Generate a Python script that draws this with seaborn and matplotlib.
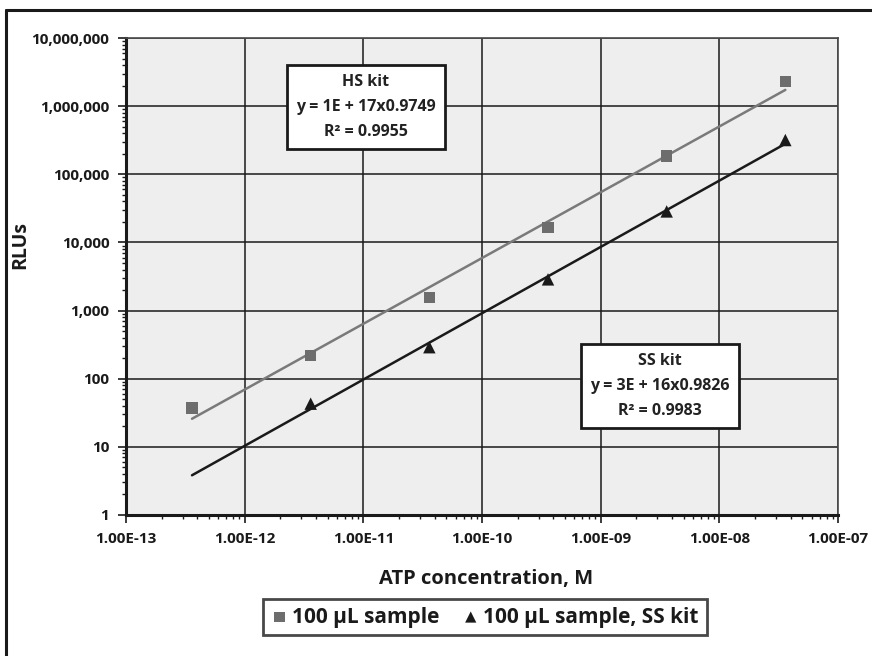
import numpy as np
import pandas as pd
import seaborn as sns
import matplotlib
matplotlib.use("Agg")
import matplotlib.pyplot as plt
from matplotlib.ticker import LogLocator, FuncFormatter, NullFormatter
from matplotlib.lines import Line2D

# ATP concentration (M) and RLU readings
atp_hs = [3.6e-13, 3.6e-12, 3.6e-11, 3.6e-10, 3.6e-9, 3.6e-8]
rlu_hs = [37, 220, 1550, 16500, 187000, 2300000]

atp_ss = [3.6e-12, 3.6e-11, 3.6e-10, 3.6e-9, 3.6e-8]
rlu_ss = [43, 290, 2870, 28500, 318000]

label_hs = "100 µL sample"
label_ss = "100 µL sample, SS kit"

box_hs = "HS kit\ny = 1E + 17x0.9749\nR² = 0.9955"
box_ss = "SS kit\ny = 3E + 16x0.9826\nR² = 0.9983"

sns.set_style("white")
plt.rcParams['font.family'] = ['Open Sans', 'DejaVu Sans']
plt.rcParams['font.weight'] = 'bold'

df_hs = pd.DataFrame({"ATP": atp_hs, "RLU": rlu_hs})
df_ss = pd.DataFrame({"ATP": atp_ss, "RLU": rlu_ss})


def power_fit(x, y, x_from, x_to):
    # power-law trendline fitted in log space (like Excel's power trend)
    b, a = np.polyfit(np.log10(x), np.log10(y), 1)
    xs = np.logspace(np.log10(x_from), np.log10(x_to), 50)
    return pd.DataFrame({"ATP": xs, "RLU": 10 ** (a + b * np.log10(xs))})


fit_hs = power_fit(atp_hs, rlu_hs, atp_hs[0], atp_hs[-1])
fit_ss = power_fit(atp_ss, rlu_ss, atp_ss[0] / 10, atp_ss[-1])

fig = plt.figure(figsize=(8.72, 6.56), dpi=100)
ax = fig.add_axes([126 / 872, 1 - 515 / 656, (838 - 126) / 872, (515 - 38) / 656])
ax.set_facecolor("#eeeeee")

sns.lineplot(data=fit_hs, x="ATP", y="RLU", ax=ax, color="#7a7a7a", linewidth=1.8, zorder=3)
sns.lineplot(data=fit_ss, x="ATP", y="RLU", ax=ax, color="#1a1a1a", linewidth=1.8, zorder=3)
sns.scatterplot(data=df_hs, x="ATP", y="RLU", ax=ax, marker="s", color="#6d6d6d",
                s=70, edgecolor="none", zorder=4, label=label_hs)
sns.scatterplot(data=df_ss, x="ATP", y="RLU", ax=ax, marker="^", color="#1a1a1a",
                s=80, edgecolor="none", zorder=4, label=label_ss)

ax.set_xscale("log")
ax.set_yscale("log")
ax.set_xlim(1e-13, 1e-7)
ax.set_ylim(1, 1e7)

ax.xaxis.set_major_locator(LogLocator(base=10, numticks=20))
ax.yaxis.set_major_locator(LogLocator(base=10, numticks=20))
ax.xaxis.set_minor_locator(LogLocator(base=10, subs=np.arange(2, 10), numticks=100))
ax.yaxis.set_minor_locator(LogLocator(base=10, subs=np.arange(2, 10), numticks=100))
ax.xaxis.set_minor_formatter(NullFormatter())
ax.yaxis.set_minor_formatter(NullFormatter())
ax.xaxis.set_major_formatter(FuncFormatter(lambda v, p: f"{v:.2E}"))
ax.yaxis.set_major_formatter(FuncFormatter(lambda v, p: f"{int(round(v)):,}"))

ax.grid(True, which="major", color="#1a1a1a", linewidth=1.1)
ax.set_axisbelow(True)
ax.tick_params(which="major", direction="out", length=6, width=1.2, color="#1a1a1a",
               labelsize=11, pad=6, labelcolor="#1a1a1a")
ax.tick_params(which="minor", direction="out", length=3, width=1, color="#1a1a1a")
ax.tick_params(axis="both", which="both", bottom=True, left=True)
for lab in ax.get_xticklabels() + ax.get_yticklabels():
    lab.set_fontweight("bold")

for side in ["left", "bottom"]:
    ax.spines[side].set_color("#1a1a1a")
    ax.spines[side].set_linewidth(2.2)
for side in ["top", "right"]:
    ax.spines[side].set_color("#4a4a4a")
    ax.spines[side].set_linewidth(1.2)

ax.set_xlabel("ATP concentration, M", fontsize=14.5, fontweight="bold", color="#1a1a1a")
ax.set_ylabel("RLUs", fontsize=14, fontweight="bold", color="#1a1a1a")
ax.xaxis.set_label_coords((486 - 126) / 712, -(569 - 515) / 477)
ax.yaxis.set_label_coords(-(126 - 30) / 712, 1 - (245 - 38) / 477)

box_style = dict(boxstyle="square,pad=0.55", facecolor="white", edgecolor="#1a1a1a", linewidth=2)
ax.text((366 - 126) / 712, 1 - (107 - 38) / 477, box_hs, transform=ax.transAxes,
        ha="center", va="center", fontsize=11.5, fontweight="bold", linespacing=1.75,
        color="#222222", bbox=box_style, zorder=6)
ax.text((660 - 126) / 712, 1 - (386 - 38) / 477, box_ss, transform=ax.transAxes,
        ha="center", va="center", fontsize=11.5, fontweight="bold", linespacing=1.75,
        color="#222222", bbox=box_style, zorder=6)

ax.get_legend().remove()
handles, labels = ax.get_legend_handles_labels()
leg = fig.legend(handles, labels, loc="center", bbox_to_anchor=(485 / 872, 1 - 617 / 656),
                 ncol=2, frameon=True, fancybox=False, fontsize=15, handletextpad=0.2,
                 handlelength=0.8, columnspacing=1.1, borderpad=0.38, borderaxespad=0,
                 markerscale=0.9)
leg._legend_box.sep = 0
leg.get_frame().set_edgecolor("#1a1a1a")
leg.get_frame().set_linewidth(2)
for t in leg.get_texts():
    t.set_fontweight("bold")
    t.set_color("#1a1a1a")

# outer frame around the whole chart (left and top edges visible)
fig.add_artist(Line2D([6 / 872, 6 / 872], [0, 1 - 10 / 656], transform=fig.transFigure,
                      color="#1a1a1a", linewidth=2.2))
fig.add_artist(Line2D([6 / 872, 1], [1 - 10 / 656, 1 - 10 / 656], transform=fig.transFigure,
                      color="#1a1a1a", linewidth=2.2))

fig.savefig("out.png", dpi=100)
